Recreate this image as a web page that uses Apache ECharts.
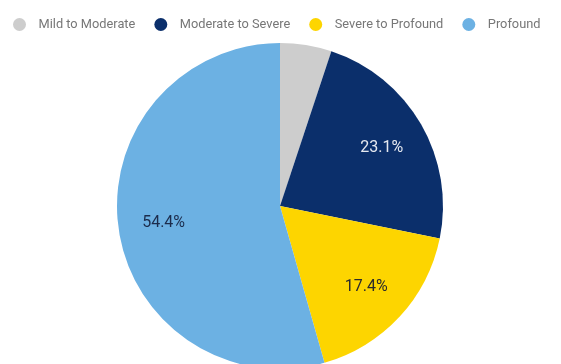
<!DOCTYPE html>
<html>
<head>
<meta charset="utf-8">
<script src="https://cdn.jsdelivr.net/npm/echarts@6/dist/echarts.min.js"></script>
<style>
  html, body { margin: 0; padding: 0; background: #ffffff; }
  #chart { width: 561px; height: 364px; }
</style>
</head>
<body>
<div id="chart"></div>
<script>
// Hearing loss severity shares (percent)
const categories = ['Mild to Moderate', 'Moderate to Severe', 'Severe to Profound', 'Profound'];
const shares = [5.1, 23.1, 17.4, 54.4];
const sliceColors = ['#cdcdcd', '#0b2f6b', '#fdd500', '#6cb1e3'];
const labelColors = ['#333333', '#e6e9f0', '#2b2b2b', '#1c2c4c'];

const pieData = categories.map((name, i) => ({
  name: name,
  value: shares[i],
  itemStyle: { color: sliceColors[i] }
}));

// Label layer: same slices, transparent, so that 'inside' labels sit further out
const labelData = categories.map((name, i) => ({
  name: name,
  value: shares[i],
  itemStyle: { color: 'rgba(0,0,0,0)' },
  label: { show: i !== 0, color: labelColors[i] }
}));

const chart = echarts.init(document.getElementById('chart'), null, { renderer: 'canvas' });
chart.setOption({
  animation: false,
  legend: {
    top: 13,
    left: 8,
    itemWidth: 28,
    itemHeight: 13,
    itemGap: 19,
    icon: 'circle',
    textStyle: { fontFamily: 'Roboto', fontSize: 12.8, color: '#777777' },
    data: categories
  },
  series: [
    {
      type: 'pie',
      center: [280, 206],
      radius: [0, 163],
      startAngle: 90,
      clockwise: true,
      label: { show: false },
      labelLine: { show: false },
      itemStyle: { borderWidth: 0 },
      data: pieData,
      silent: true
    },
    {
      type: 'pie',
      center: [280, 207],
      radius: [66, 163],
      startAngle: 90,
      clockwise: true,
      silent: true,
      legendHoverLink: false,
      label: {
        position: 'inside',
        fontFamily: 'Roboto',
        fontSize: 16,
        formatter: p => p.value.toFixed(1) + '%'
      },
      labelLine: { show: false },
      data: labelData
    }
  ]
});
</script>
</body>
</html>
